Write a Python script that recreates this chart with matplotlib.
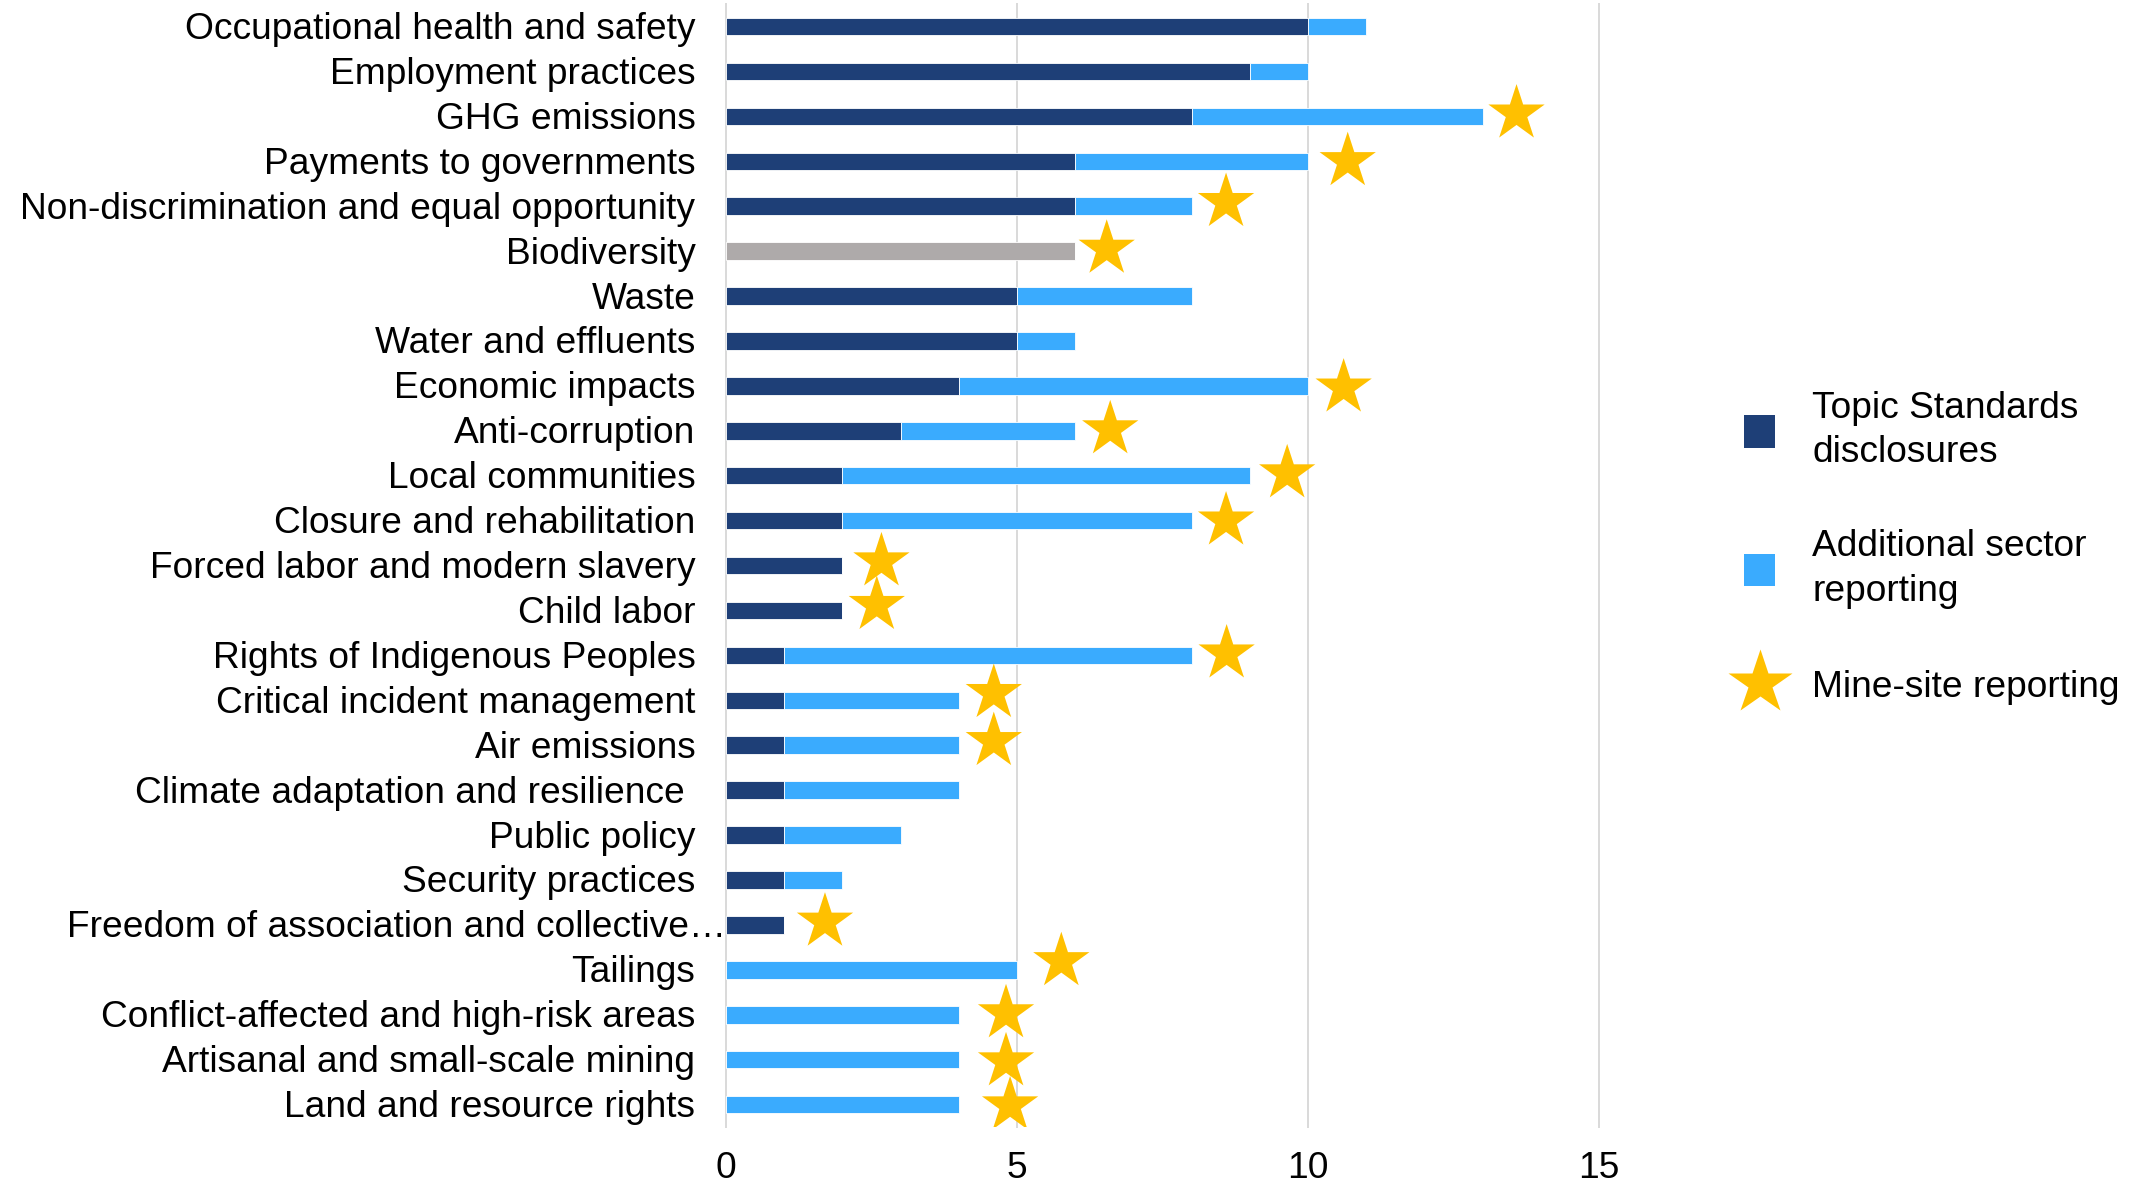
import matplotlib.pyplot as plt
from matplotlib.patches import Patch
from matplotlib.lines import Line2D
from matplotlib.transforms import ScaledTranslation

plt.rcParams['font.family'] = ['Liberation Sans', 'DejaVu Sans']

# Categories, top to bottom
categories = [
    'Occupational health and safety', 'Employment practices', 'GHG emissions',
    'Payments to governments', 'Non-discrimination and equal opportunity',
    'Biodiversity', 'Waste', 'Water and effluents', 'Economic impacts',
    'Anti-corruption', 'Local communities', 'Closure and rehabilitation',
    'Forced labor and modern slavery', 'Child labor',
    'Rights of Indigenous Peoples', 'Critical incident management',
    'Air emissions', 'Climate adaptation and resilience ', 'Public policy',
    'Security practices', 'Freedom of association and collective\u2026',
    'Tailings', 'Conflict-affected and high-risk areas',
    'Artisanal and small-scale mining', 'Land and resource rights',
]
topic = [10, 9, 8, 6, 6, 6, 5, 5, 4, 3, 2, 2, 2, 2, 1, 1, 1, 1, 1, 1, 1, 0, 0, 0, 0]
additional = [1, 1, 5, 4, 2, 0, 3, 1, 6, 3, 7, 6, 0, 0, 7, 3, 3, 3, 2, 1, 0, 5, 4, 4, 4]

# Mine-site reporting stars (scatter series): x value and row position
star_x = [13.58, 10.68, 8.59, 6.54, 10.61, 6.60, 9.64, 8.59, 2.67, 2.59,
          8.60, 4.60, 4.60, 1.70, 5.76, 4.81, 4.81, 4.88]
star_y = [1.94, 3.00, 3.91, 4.95, 8.04, 8.97, 9.95, 11.00, 11.91, 12.88,
          13.96, 14.84, 15.91, 19.93, 20.81, 21.97, 23.04, 24.02]

x_ticks = [0, 5, 10, 15]

NAVY = '#1E3F77'
LIGHT = '#3AABFE'
GREY = '#AEAAAA'
GOLD = '#FFC000'
GRID = '#D9D9D9'
FS = 26.7

fig = plt.figure(figsize=(21.48, 11.88), dpi=100)
ax = fig.add_axes([0.338, 0.0513, 0.4065, 0.9453])

rows = list(range(len(categories)))
topic_colors = [GREY if c == 'Biodiversity' else NAVY for c in categories]
ax.barh(rows, topic, height=0.39, color=topic_colors, edgecolor='white',
        linewidth=0.6, zorder=2)
ax.barh(rows, additional, left=topic, height=0.39, color=LIGHT,
        edgecolor='white', linewidth=0.6, zorder=2)
ax.scatter(star_x, star_y, marker='*', s=42.6 ** 2, color=GOLD,
           edgecolors='none', zorder=3)

ax.set_xlim(0, 15)
ax.set_ylim(len(categories) - 0.5, -0.5)
for v in x_ticks:
    ax.axvline(v, color=GRID, lw=1.4, zorder=0, clip_on=False)
ax.set_xticks(x_ticks)
ax.tick_params(axis='x', length=0, pad=17, labelsize=FS)
ax.set_yticks([])
for s in ax.spines.values():
    s.set_visible(False)

# category labels, right-aligned next to the axis
for i, lab in enumerate(categories):
    pad = 0 if lab.endswith('\u2026') else 22
    tr = ax.get_yaxis_transform() + ScaledTranslation(-pad / 72, -0.03, fig.dpi_scale_trans)
    ax.text(0, i, lab, transform=tr, ha='right', va='center', fontsize=FS)

handles = [
    Patch(facecolor=NAVY, edgecolor='none'),
    Patch(facecolor=LIGHT, edgecolor='none'),
    Line2D([], [], marker='*', linestyle='none', markersize=48.5,
           color=GOLD, markeredgecolor='none'),
]
labels = ['Topic Standards\ndisclosures', 'Additional sector\nreporting',
          'Mine-site reporting']
leg = fig.legend(handles, labels, loc='center left', bbox_to_anchor=(0.812, 0.5387),
                 frameon=False, fontsize=FS, handlelength=0.83, handleheight=0.98,
                 handletextpad=1.0, labelspacing=1.6, borderpad=0, borderaxespad=0)
for t in leg.get_texts():
    t.set_linespacing(1.35)

fig.savefig('out.png', dpi=100)
